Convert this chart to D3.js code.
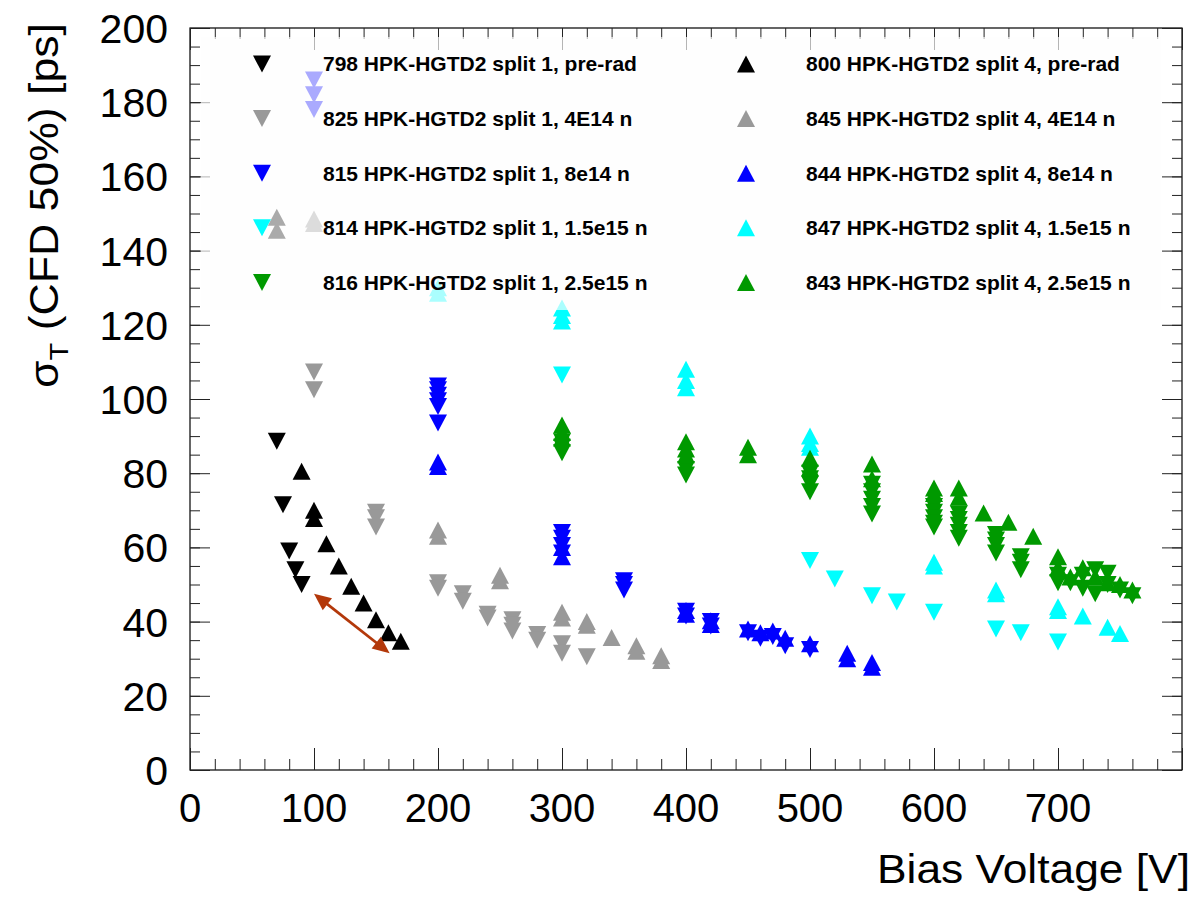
<!DOCTYPE html>
<html><head><meta charset="utf-8">
<script src="https://cdn.jsdelivr.net/npm/d3@7"></script>
<style>body{margin:0;background:#fff}svg{display:block}</style>
</head><body>
<script>
// ---- data (Bias voltage [V], sigma_T [ps]) ----
const xMajorTicks=[0,100,200,300,400,500,600,700];
const yMajorTicks=[0,20,40,60,80,100,120,140,160,180,200];

const d798=[[70,88.6],[75,71.5],[80,59],[85,54],[90,50]];
const d825=[[100,107.3],[100,102.5],[150,69.5],[150,68],[150,65.5],[200,50.5],[200,49],[220,47.5],[220,45.5],[240,42],[240,41],[260,40.5],[260,39],[260,37.5],[280,36.5],[280,35],[300,34],[300,31.5],[320,30.5]];
const d815=[[100,186],[100,182],[100,178],[200,103.5],[200,102.5],[200,101],[200,99.5],[200,98],[200,93.5],[300,64],[300,62.5],[300,60.5],[300,58.5],[350,51],[350,50],[350,48.5],[400,42.8],[400,41.5],[420,40],[420,38.8],[450,37],[460,35.5],[470,36],[480,33.5],[500,32.5]];
const d814=[[300,106.5],[500,56.5],[520,51.5],[550,47],[570,45.3],[600,42.5],[650,38],[670,37],[700,34.5]];
const d816=[[300,88.5],[300,87],[300,85.5],[400,81],[400,79.5],[500,80],[500,78.5],[500,77],[500,75],[550,77],[550,75],[550,73],[550,71],[550,69],[600,71],[600,69.5],[600,68],[600,66.5],[600,65.5],[620,69],[620,67.5],[620,66],[620,64],[620,62.5],[650,63.5],[650,62],[650,60.5],[650,58.5],[670,57.5],[670,56],[670,54],[700,52.5],[700,50.5],[710,50.5],[720,49],[720,52.5],[730,54],[730,47.5],[740,53],[740,50],[750,48.5],[760,47]];
const d800=[[70,149],[70,145.5],[90,80.5],[100,70],[100,67.8],[110,61],[120,55],[130,49.5],[140,45],[150,40.5],[160,37],[170,34.7]];
const d845=[[100,148.5],[100,147.3],[200,64.7],[200,63],[250,52.5],[250,51],[300,42.5],[300,41],[320,40],[320,39],[340,35.7],[360,33.5],[360,32],[380,30.8],[380,29.5]];
const d844=[[200,83],[200,81.8],[300,60],[300,57.5],[400,43],[400,42],[420,40.2],[420,39.2],[450,38],[460,37],[470,37.5],[480,35.5],[500,34],[530,31.5],[530,30],[550,29],[550,27.7]];
const d847=[[200,130],[200,128.5],[300,124.5],[300,122.5],[300,121],[400,108],[400,105],[400,103],[500,90],[500,88],[500,87],[600,56],[600,55],[650,48.5],[650,47.5],[700,44],[700,43],[720,41.5],[740,38.5],[750,36.8]];
const d843=[[300,93],[300,91],[300,89.5],[400,88.5],[400,86.5],[400,85],[450,87],[450,85],[500,84],[500,81.5],[550,82.5],[550,78.5],[600,76],[600,74.5],[620,76],[620,73.5],[640,69.3],[660,66.8],[680,63],[700,57.5],[700,54.5],[710,52],[720,54.5],[730,52],[740,50.5],[750,50],[760,48.5]];

const seriesLabels=["798 HPK-HGTD2 split 1, pre-rad","825 HPK-HGTD2 split 1, 4E14 n","815 HPK-HGTD2 split 1, 8e14 n","814 HPK-HGTD2 split 1, 1.5e15 n","816 HPK-HGTD2 split 1, 2.5e15 n",
"800 HPK-HGTD2 split 4, pre-rad","845 HPK-HGTD2 split 4, 4E14 n","844 HPK-HGTD2 split 4, 8e14 n","847 HPK-HGTD2 split 4, 1.5e15 n","843 HPK-HGTD2 split 4, 2.5e15 n"];
const seriesData=[d798,d825,d815,d814,d816,d800,d845,d844,d847,d843];
const seriesColors=["#000000","#999999","#0000ff","#00ffff","#009900","#000000","#999999","#0000ff","#00ffff","#009900"];
const seriesShapes=["down","down","down","down","down","up","up","up","up","up"];
const arrowFrom=[100,47.5], arrowTo=[161,31.5];

// ---- layout ----
const W=1204,H=897;
const FONT='"Liberation Sans", Arial, Helvetica, sans-serif';
const x=d3.scaleLinear().domain([0,800]).range([190,1182]);
const y=d3.scaleLinear().domain([0,200]).range([770,28]);
const svg=d3.select("body").append("svg").attr("width",W).attr("height",H);

const tw=18, th=17;
function tri(shape){
  return shape==="up" ? `M0,${-th/2}L${tw/2},${th/2}L${-tw/2},${th/2}Z` : `M0,${th/2}L${tw/2},${-th/2}L${-tw/2},${-th/2}Z`;
}

// frame
svg.append("rect").attr("x",x(0)).attr("y",y(200)).attr("width",x(800)-x(0)).attr("height",y(0)-y(200))
  .attr("fill","none").attr("stroke","#000").attr("stroke-width",1.2);

// ticks via axes
const xMinor=x.ticks(40), yMinor=y.ticks(40);
function ax(gen,tr,vals,size){
  const g=svg.append("g").attr("transform",tr).call(gen.tickValues(vals).tickSize(size).tickFormat(""));
  g.select(".domain").remove();
  g.selectAll("line").attr("stroke","#222").attr("stroke-width",1);
  return g;
}
ax(d3.axisBottom(x),`translate(0,${y(0)})`,xMinor,-11);
ax(d3.axisBottom(x),`translate(0,${y(0)})`,xMajorTicks.concat([800]),-22);
ax(d3.axisTop(x),`translate(0,${y(200)})`,xMinor,-11);
ax(d3.axisTop(x),`translate(0,${y(200)})`,xMajorTicks.concat([800]),-22);
ax(d3.axisLeft(y),`translate(${x(0)},0)`,yMinor,-10);
ax(d3.axisLeft(y),`translate(${x(0)},0)`,yMajorTicks,-20);
ax(d3.axisRight(y),`translate(${x(800)},0)`,yMinor,-10);
ax(d3.axisRight(y),`translate(${x(800)},0)`,yMajorTicks,-20);

// tick labels
svg.append("g").selectAll("text").data(xMajorTicks).join("text")
  .attr("x",d=>x(d)).attr("y",822).attr("text-anchor","middle")
  .attr("font-family",FONT).attr("font-size",40).text(d=>d);
svg.append("g").selectAll("text").data(yMajorTicks).join("text")
  .attr("x",168).attr("y",d=>y(d)+15).attr("text-anchor","end")
  .attr("font-family",FONT).attr("font-size",41).text(d=>d);

// axis titles
svg.append("text").attr("x",1190).attr("y",883).attr("text-anchor","end")
  .attr("font-family",FONT).attr("font-size",40).attr("textLength",313).attr("lengthAdjust","spacingAndGlyphs")
  .text("Bias Voltage [V]");
const yt=svg.append("text").attr("transform","translate(58,23) rotate(-90)").attr("text-anchor","end")
  .attr("font-family",FONT).attr("font-size",40).attr("textLength",365).attr("lengthAdjust","spacingAndGlyphs");
yt.append("tspan").text("σ");
yt.append("tspan").attr("font-size",26).attr("dy",10).text("T");
yt.append("tspan").attr("dy",-10).text(" (CFD 50%) [ps]");

// data points
seriesData.forEach((data,i)=>{
  svg.append("g").selectAll("path").data(data).join("path")
    .attr("transform",d=>`translate(${x(d[0])},${y(d[1])})`)
    .attr("d",tri(seriesShapes[i])).attr("fill",seriesColors[i]);
});

// double arrow
(function(){
  const x1=x(arrowFrom[0]),y1=y(arrowFrom[1]),x2=x(arrowTo[0]),y2=y(arrowTo[1]);
  const col="#b3380a";
  const L=Math.hypot(x2-x1,y2-y1), ux=(x2-x1)/L, uy=(y2-y1)/L;
  const hl=17, hw=7.5;
  svg.append("line").attr("x1",x1+ux*hl*0.8).attr("y1",y1+uy*hl*0.8).attr("x2",x2-ux*hl*0.8).attr("y2",y2-uy*hl*0.8)
    .attr("stroke",col).attr("stroke-width",2.8);
  function head(tx,ty,dx,dy){
    const bx=tx-dx*hl, by=ty-dy*hl;
    svg.append("path").attr("d",`M${tx},${ty}L${bx-dy*hw},${by+dx*hw}L${bx+dy*hw},${by-dx*hw}Z`).attr("fill",col);
  }
  head(x2,y2,ux,uy); head(x1,y1,-ux,-uy);
})();

// legend
const lg=svg.append("g");
lg.append("rect").attr("x",201).attr("y",37).attr("width",960).attr("height",273)
  .attr("fill","#fdfdfd").attr("fill-opacity",0.67);
seriesLabels.forEach((lab,i)=>{
  const col=i<5?0:1, row=i%5;
  const cy=64+row*54.6;
  const mx=col===0?262:746, tx=col===0?323:806;
  lg.append("path").attr("transform",`translate(${mx},${cy})`).attr("d",tri(seriesShapes[i])).attr("fill",seriesColors[i]);
  lg.append("text").attr("x",tx).attr("y",cy+7.3).attr("font-family",FONT).attr("font-weight","bold")
    .attr("font-size",21).text(lab);
});
</script>
</body></html>
